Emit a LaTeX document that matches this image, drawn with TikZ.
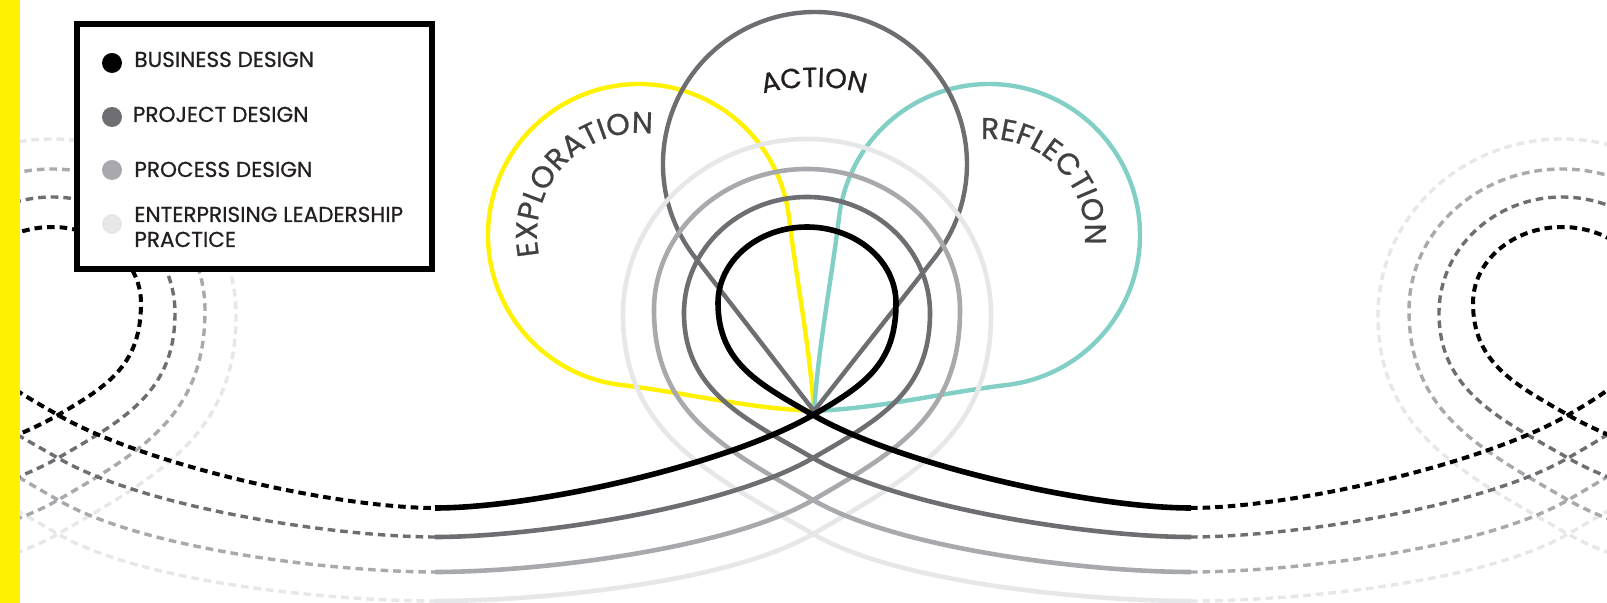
\documentclass[tikz,border=0pt]{standalone}
\usepackage{fontspec}
\setmainfont{Poppins}
\newfontfamily\lblfont{Poppins}[FakeBold=0.7]
\usetikzlibrary{decorations.text}
\definecolor{ribblack}{HTML}{000000}
\definecolor{ribdark}{HTML}{6D6E71}
\definecolor{ribmed}{HTML}{A7A9AC}
\definecolor{riblight}{HTML}{E6E7E8}
\definecolor{expyellow}{HTML}{FFF200}
\definecolor{refteal}{HTML}{82D0C5}
\definecolor{lblgray}{HTML}{414042}
\definecolor{legtext}{HTML}{231F20}
\newcommand\petallabel{\lblfont\fontsize{15}{18}\selectfont\color{lblgray}}
\newcommand\actionlabel{\lblfont\fontsize{13.8}{16}\selectfont\color{legtext}}
\newcommand\drawribbon[6]{%
  \pgfmathsetmacro\rk{0.54*(#2-#5)}%
  \pgfmathsetmacro\rh{0.552*(#5-#6)}%
  \pgfmathsetmacro\rw{0.552*#4}%
  \draw[#1] (435,#3) .. controls (535,#3) and (726.4,{#2+50}) .. (813,#2)
    .. controls ({813+0.866*\rk},{#2-0.5*\rk}) and ({807+#4},{#5+\rk}) .. ({807+#4},#5)
    .. controls ({807+#4},{#5-\rh}) and ({807+\rw},#6) .. (807,#6)
    .. controls ({807-\rw},#6) and ({807-#4},{#5-\rh}) .. ({807-#4},#5)
    .. controls ({807-#4},{#5+\rk}) and ({813-0.866*\rk},{#2-0.5*\rk}) .. (813,#2)
    .. controls (899.6,{#2+50}) and (1091,#3) .. (1191,#3);
}
\tikzset{
  solidrib/.style={line width=2.3pt},
  blackrib/.style={line width=2.8pt},
  dashrib/.style={line width=1.7pt, dash pattern=on 3.8pt off 2.5pt},
  dashblack/.style={line width=2pt, dash pattern=on 3.8pt off 2.5pt},
  petal/.style={line width=2.2pt},
  legdot/.style={circle, inner sep=0pt, minimum size=10pt},
  legitem/.style={anchor=base west, inner sep=0pt, font=\lblfont\fontsize{10.8}{13}\selectfont, text=legtext},
}
\begin{document}
\begin{tikzpicture}[x=0.5pt,y=-0.5pt]
\useasboundingbox (0,0) rectangle (1607,603);
\clip (0,0) rectangle (1607,603);
\fill[white] (0,0) rectangle (1607,603);
% dashed neighbouring loops
\foreach \sh in {-755,755}{
  \drawribbon{riblight,dashrib,shift={(\sh,0)}}{534}{601}{184}{315}{139}
  \drawribbon{ribmed,dashrib,shift={(\sh,0)}}{500}{572}{153}{310}{169}
  \drawribbon{ribdark,dashrib,shift={(\sh,0)}}{458}{537}{123}{313}{197}
  \drawribbon{ribblack,dashblack,shift={(\sh,0)}}{415}{508}{89}{303}{227}
}
% petals
\draw[petal, expyellow] (814,411) .. controls (745,408) and (690,393.4) .. (620.6,384.9)
  arc[start angle=97, end angle=353, radius=151]
  .. controls (797.4,286.1) and (809,342) .. (814,411) -- cycle;
\draw[petal, refteal] (814,411) .. controls (883,408) and (938,393.4) .. (1007.4,384.9)
  arc[start angle=83, end angle=-173, radius=151]
  .. controls (830.6,286.1) and (819,342) .. (814,411) -- cycle;
\draw[petal, ribdark] (814,411) -- (695.2,257.6)
  arc[start angle=142, end angle=398, radius=152] -- cycle;
% solid central loop
\drawribbon{riblight,solidrib}{534}{601}{184}{315}{139}
\drawribbon{ribmed,solidrib}{500}{572}{153}{310}{169}
\drawribbon{ribdark,solidrib}{458}{537}{123}{313}{197}
\drawribbon{ribblack,blackrib}{415}{508}{89}{303}{227}
% petal labels
\path[decorate, decoration={text along path, text align=center, text={|\petallabel|EXPLORATION}}]
  (538.0,249.2) arc[start angle=172, end angle=274, radius=102];
\path[decorate, decoration={text along path, text align=center, text={|\petallabel|REFLECTION}}]
  (980.6,139.4) arc[start angle=265, end angle=366, radius=96];
\path[decorate, decoration={text along path, text align=center, text={|\actionlabel|ACTION}}]
  (729.5,105.7) arc[start angle=245, end angle=295, radius=200];
% legend
\draw[line width=3pt, fill=white] (77,23.7) rectangle (432,269);
\node[legdot, fill=ribblack] (d1) at (112,63) {};
\node[legdot, fill=ribdark] (d2) at (112,117) {};
\node[legdot, fill=ribmed] (d3) at (112,170) {};
\node[legdot, fill=riblight] (d4) at (112,224) {};
\node[legitem] (l1) at (134,67) {BUSINESS DESIGN};
\node[legitem] (l2) at (132.5,122) {PROJECT DESIGN};
\node[legitem] (l3) at (134,177) {PROCESS DESIGN};
\node[legitem] (l4a) at (134,222) {ENTERPRISING LEADERSHIP};
\node[legitem] (l4b) at (134,247) {PRACTICE};
% yellow bar
\fill[expyellow] (0,0) rectangle (20,603);
\end{tikzpicture}
\end{document}
